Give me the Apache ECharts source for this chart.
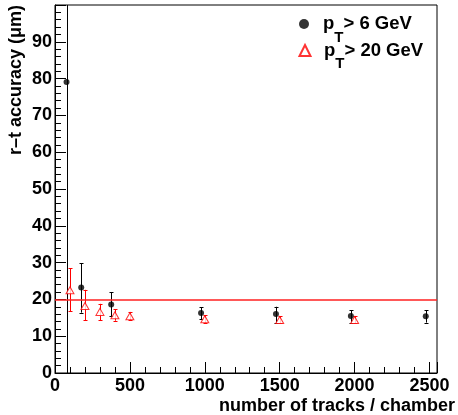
<!DOCTYPE html>
<html><head><meta charset="utf-8">
<script src="https://cdn.jsdelivr.net/npm/echarts@6/dist/echarts.min.js"></script>
<style>html,body{margin:0;padding:0;background:#fff}#c{width:458px;height:415px}</style>
</head><body><div id="c"></div>
<script>
// ---- data ----
const xTickLabels = ['0', '500', '1000', '1500', '2000', '2500'];
const yTickLabels = ['0', '10', '20', '30', '40', '50', '60', '70', '80', '90'];
const seriesNames = ['pT> 6 GeV', 'pT> 20 GeV'];

const tracks6 = [77, 175, 375, 975, 1475, 1975, 2475];
const acc6    = [79.1, 23.2, 18.6, 16.3, 16.0, 15.5, 15.4];
const lo6     = [-60, 16.4, 15.4, 14.6, 13.7, 13.7, 13.7];
const hi6     = [260, 29.8, 21.9, 17.9, 18.0, 17.1, 17.1];

const tracks20 = [100, 200, 300, 400, 500, 1000, 1500, 2000];
const acc20    = [22.5, 18.2, 16.6, 15.7, 15.4, 14.6, 14.4, 14.4];
const lo20     = [16.8, 14.3, 14.4, 14.2, 14.4, 13.7, 13.5, 13.5];
const hi20     = [28.4, 22.6, 18.8, 17.3, 16.6, 15.7, 15.4, 15.5];

const refLevel = 20;

// ---- chart ----
const FONT = '"Liberation Sans", Arial, Helvetica, sans-serif';
const X_MAX = 2550, Y_MAX = 100;

function errRender(color) {
  return function (params, api) {
    const x = api.value(0), lo = api.value(1), hi = api.value(2);
    const cl = Math.max(lo, 0), ch = Math.min(hi, Y_MAX);
    const p1 = api.coord([x, cl]), p2 = api.coord([x, ch]);
    const px = Math.round(p1[0]) + 0.5;
    const st = { stroke: color, lineWidth: 1 };
    const w = 2;
    const ch_ = [{ type: 'line', shape: { x1: px, y1: p1[1], x2: px, y2: p2[1] }, style: st }];
    if (lo >= 0) { const y = Math.round(p1[1]) + 0.5; ch_.push({ type: 'line', shape: { x1: px - w, y1: y, x2: px + w, y2: y }, style: st }); }
    if (hi <= Y_MAX) { const y = Math.round(p2[1]) + 0.5; ch_.push({ type: 'line', shape: { x1: px - w, y1: y, x2: px + w, y2: y }, style: st }); }
    return { type: 'group', children: ch_ };
  };
}

function legendRich(spacer) {
  return {
    color: '#000',
    rich: {
      g: { width: spacer, fontSize: 18 },
      p: { fontSize: 18.5, fontWeight: 'bold', fontFamily: FONT, color: '#000' },
      s: { fontSize: 15, fontWeight: 'bold', fontFamily: FONT, color: '#000', padding: [27, 0, 0, 0] }
    }
  };
}
function legendFmt(n) { return '{g|}{p|p}{s|T}{p|' + n.slice(2) + '}'; }

const chart = echarts.init(document.getElementById('c'), null, { renderer: 'canvas' });
chart.setOption({
  animation: false,
  backgroundColor: '#fff',
  textStyle: { fontFamily: FONT },
  grid: { left: 55, right: 20, top: 5, bottom: 41, show: true, borderColor: '#000', borderWidth: 1, backgroundColor: 'transparent' },
  legend: [
    {
      left: 299, top: 14.5, padding: 0, itemWidth: 10, itemHeight: 10,
      data: [seriesNames[0]], formatter: legendFmt, textStyle: legendRich(9)
    },
    {
      left: 298.5, top: 41, padding: 0, itemWidth: 11, itemHeight: 11,
      data: [seriesNames[1]], formatter: legendFmt, textStyle: legendRich(8.5)
    }
  ],
  xAxis: {
    type: 'value', min: 0, max: X_MAX, interval: 500,
    name: 'number of tracks / chamber', nameLocation: 'end', nameGap: 0,
    nameTextStyle: { fontSize: 18, fontWeight: 'bold', color: '#000', fontFamily: FONT, align: 'right', verticalAlign: 'top', padding: [24, -18, 0, 0] },
    axisLine: { show: true, onZero: false, lineStyle: { color: '#000', width: 1 } },
    axisTick: { show: true, inside: true, length: 11, lineStyle: { color: '#000' } },
    minorTick: { show: true, splitNumber: 5, length: 6, lineStyle: { color: '#000' } },
    splitLine: { show: false },
    axisLabel: {
      margin: 4, fontSize: 18, fontWeight: 'bold', color: '#000', fontFamily: FONT,
      formatter: function (v) { const i = xTickLabels.indexOf(String(v)); return i >= 0 ? xTickLabels[i] : ''; }
    }
  },
  yAxis: {
    type: 'value', min: 0, max: Y_MAX, interval: 10,
    name: 'r\u2013t accuracy (\u03bcm)', nameLocation: 'end', nameGap: 0, nameRotate: 90,
    nameTextStyle: { fontSize: 18, fontWeight: 'bold', color: '#000', fontFamily: FONT, align: 'right', verticalAlign: 'bottom', padding: [0, 0, 30, 0] },
    axisLine: { show: true, onZero: false, lineStyle: { color: '#000', width: 1 } },
    axisTick: { show: true, inside: true, length: 11, lineStyle: { color: '#000' } },
    minorTick: { show: true, splitNumber: 5, length: 6, lineStyle: { color: '#000' } },
    splitLine: { show: false },
    axisLabel: {
      margin: 3, fontSize: 18, fontWeight: 'bold', color: '#000', fontFamily: FONT,
      formatter: function (v) { const i = yTickLabels.indexOf(String(v)); return i >= 0 ? yTickLabels[i] : ''; }
    }
  },
  series: [
    {
      type: 'custom', name: 'err6', renderItem: errRender('#000'), clip: true, z: 2,
      data: tracks6.map((x, i) => [x, lo6[i], hi6[i]]), encode: { x: 0, y: [1, 2] }
    },
    {
      type: 'custom', name: 'err20', renderItem: errRender('#ff0000'), clip: true, z: 2,
      data: tracks20.map((x, i) => [x, lo20[i], hi20[i]]), encode: { x: 0, y: [1, 2] }
    },
    {
      type: 'scatter', name: seriesNames[0], symbol: 'circle', symbolSize: 6, z: 4,
      itemStyle: { color: '#000' },
      data: tracks6.map((x, i) => [x, acc6[i]]),
      markLine: {
        silent: true, symbol: 'none', animation: false,
        label: { show: false },
        lineStyle: { color: '#ff2020', width: 1.5, type: 'solid' },
        data: [{ yAxis: refLevel }]
      }
    },
    {
      type: 'scatter', name: seriesNames[1], symbol: 'triangle', symbolSize: [8, 7], z: 5,
      itemStyle: { color: '#fff', borderColor: '#ff0000', borderWidth: 1 },
      data: tracks20.map((x, i) => [x, acc20[i]])
    }
  ]
});
</script>
</body></html>
